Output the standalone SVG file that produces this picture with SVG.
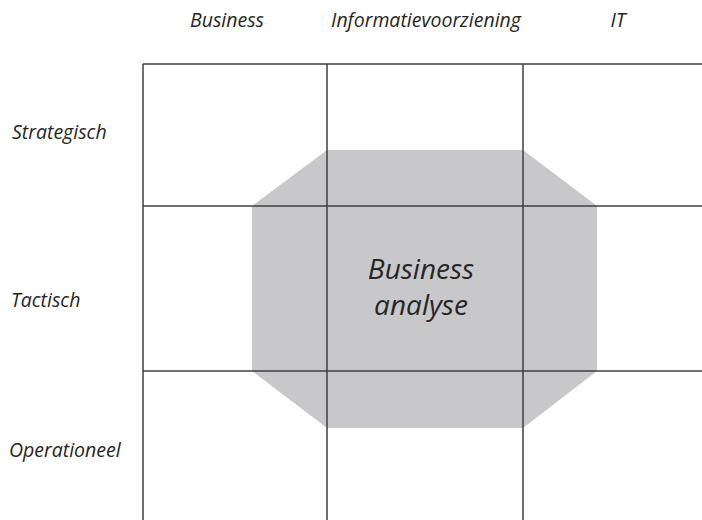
<svg xmlns="http://www.w3.org/2000/svg" width="702" height="520" viewBox="0 0 702 520">
<style>
.t{font-family:"Open Sans","Liberation Sans",sans-serif;font-style:italic;fill:#262626;font-size:19.5px}
.c{font-family:"Open Sans","Liberation Sans",sans-serif;font-style:italic;fill:#262626;font-size:28px;text-anchor:middle}
.g{stroke:#3f3f3f;stroke-width:1.5;fill:none}
</style>
<rect width="702" height="520" fill="#ffffff"/>
<g id="area">
<polygon points="327,150 523,150 597,206 597,371 523,428 327,428 252,371 252,206" fill="#c8c8ca"/>
</g>
<g id="grid" class="g">
<line x1="143" y1="64" x2="702" y2="64"/>
<line x1="143" y1="206" x2="702" y2="206"/>
<line x1="143" y1="371" x2="702" y2="371"/>
<line x1="143" y1="64" x2="143" y2="520"/>
<line x1="327" y1="64" x2="327" y2="520"/>
<line x1="523" y1="64" x2="523" y2="520"/>
</g>
<g id="headers">
<text class="t" x="227" y="27" text-anchor="middle">Business</text>
<text class="t" x="426" y="27" text-anchor="middle">Informatievoorziening</text>
<text class="t" x="618" y="27" text-anchor="middle">IT</text>
</g>
<g id="rows">
<text class="t" x="12" y="139">Strategisch</text>
<text class="t" x="11" y="307">Tactisch</text>
<text class="t" x="9" y="457">Operationeel</text>
</g>
<g id="center">
<text class="c" x="421" y="279">Business</text>
<text class="c" x="421" y="315">analyse</text>
</g>
</svg>
